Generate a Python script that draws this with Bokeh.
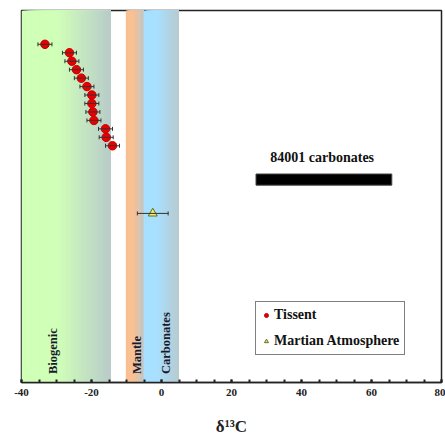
import numpy as np
from bokeh.plotting import figure
from bokeh.models import (Whisker, TeeHead, Legend, LegendItem, Range1d,
                          ColumnDataSource, FixedTicker)
from bokeh.embed import file_html
from bokeh.resources import INLINE
from bokeh.core.properties import value

# ---- data ----
tissent_d13c = [-33.3, -26.3, -25.6, -24.3, -22.9, -21.3, -19.9, -19.9, -19.6, -19.3, -16.0, -15.8, -14.0]
tissent_rank = [40, 39, 38, 37, 36, 35, 34, 33, 32, 31, 30, 29, 28]
tissent_err = [2.0] * 13
mars_atm_d13c = [-2.5]
mars_atm_rank = [20]
mars_atm_err = [4.4]
carb84001_range = [27.0, 65.8]
carb84001_rank = 24.0

band_names = ["Biogenic", "Mantle", "Carbonates"]
band_lo = [-40.0, -10.2, -5.1]
band_hi = [-14.5, -5.1, 5.0]
band_fade_start = [-30.0, -8.0, -1.5]
band_col_left = [(208, 255, 184), (248, 192, 148), (168, 224, 255)]
band_col_right = [(184, 202, 202), (192, 200, 200), (184, 202, 206)]
tick_values = [-40, -20, 0, 20, 40, 60, 80]
tick_labels = ["-40", "-20", "0", "20", "40", "60", "80"]

FONT = "Liberation Serif"

p = figure(width=445, height=438, output_backend="svg", toolbar_location=None,
           x_range=Range1d(-40, 80), y_range=Range1d(0, 44),
           min_border_left=21, min_border_top=10, min_border_right=4, min_border_bottom=54)
p.grid.visible = False
p.background_fill_color = "white"
p.outline_line_color = "#222222"
p.outline_line_width = 1.5
p.yaxis.visible = False

# gradient bands (stacked strips, each extending to the band edge => no seams)
for lo, hi, fs, cl, cr in zip(band_lo, band_hi, band_fade_start, band_col_left, band_col_right):
    edges = np.linspace(lo, hi, 50)[:-1]
    cols = []
    for a in edges:
        t = 0.0 if a <= fs else (a - fs) / (hi - fs)
        c = tuple(int(round(cl[k] + (cr[k] - cl[k]) * t)) for k in range(3))
        cols.append("#%02x%02x%02x" % c)
    p.quad(left=list(edges), right=[hi] * len(edges), bottom=0, top=44,
           fill_color=cols, line_color=None)

# band labels
label_x = [-31.1, -6.9, 1.4]
for name, lx in zip(band_names, label_x):
    p.text(x=[lx], y=[1.0], text=[name], angle=np.pi / 2, text_align="left",
           text_baseline="middle", text_font=value(FONT), text_font_style="bold",
           text_font_size="12.5px", text_color="#1a1a2e")

# 84001 bar
p.quad(left=[carb84001_range[0]], right=[carb84001_range[1]],
       bottom=[carb84001_rank - 0.66], top=[carb84001_rank + 0.66],
       fill_color="black", line_color="#444444")
p.text(x=[(carb84001_range[0] + carb84001_range[1]) / 2 - 0.5], y=[26.6], text=["84001 carbonates"],
       text_align="center", text_baseline="middle", text_font=value(FONT),
       text_font_style="bold", text_font_size="14px", text_color="#111111")

# error bars
ts = ColumnDataSource(dict(x=tissent_d13c, y=tissent_rank,
                           lo=[a - e for a, e in zip(tissent_d13c, tissent_err)],
                           hi=[a + e for a, e in zip(tissent_d13c, tissent_err)]))
ms = ColumnDataSource(dict(x=mars_atm_d13c, y=mars_atm_rank,
                           lo=[a - e for a, e in zip(mars_atm_d13c, mars_atm_err)],
                           hi=[a + e for a, e in zip(mars_atm_d13c, mars_atm_err)]))
for src in (ts, ms):
    p.add_layout(Whisker(source=src, base="y", lower="lo", upper="hi", dimension="width",
                         line_color="#333333", line_width=1, level="glyph",
                         lower_head=TeeHead(size=4, line_color="#333333"),
                         upper_head=TeeHead(size=4, line_color="#333333")))

r1 = p.scatter("x", "y", source=ts, size=8.5, marker="circle", fill_color="#e80000",
               line_color="#c00000", line_width=1)
r2 = p.scatter("x", "y", source=ms, size=9, marker="triangle", fill_color="#eef06a",
               line_color="#6a6a20", line_width=1)

legend = Legend(items=[LegendItem(label="Tissent", renderers=[r1]),
                       LegendItem(label="Martian Atmosphere", renderers=[r2])],
                location=(234, 27), border_line_color="black", border_line_width=1.5,
                label_text_font=FONT, label_text_font_style="bold", label_text_font_size="14px",
                label_text_color="#111111",
                glyph_width=10, glyph_height=16, label_height=16, spacing=10, padding=5,
                margin=0, label_standoff=3, background_fill_alpha=1)
p.add_layout(legend, "center")

# x axis
ax = p.xaxis[0]
ax.ticker = FixedTicker(ticks=tick_values, minor_ticks=list(range(-40, 81, 5)))
ax.major_label_overrides = {v: s for v, s in zip(tick_values, tick_labels)}
ax.major_tick_in = 3
ax.major_tick_out = 0
ax.minor_tick_in = 3
ax.minor_tick_out = 0
ax.major_tick_line_color = "#222222"
ax.minor_tick_line_color = "#222222"
ax.minor_tick_line_width = 2
ax.major_tick_line_width = 2
ax.axis_line_color = "#222222"
ax.axis_line_width = 1.5
ax.major_label_text_font = FONT
ax.major_label_text_font_style = "bold"
ax.major_label_text_font_size = "11px"
ax.major_label_text_color = "#222222"
ax.major_label_standoff = 6
ax.axis_label = "δ¹³C"
ax.axis_label_text_font = FONT
ax.axis_label_text_font_style = "bold"
ax.axis_label_text_font_size = "17px"
ax.axis_label_text_color = "#222222"
ax.axis_label_standoff = 18

open("out.html", "w").write(file_html(p, INLINE))
